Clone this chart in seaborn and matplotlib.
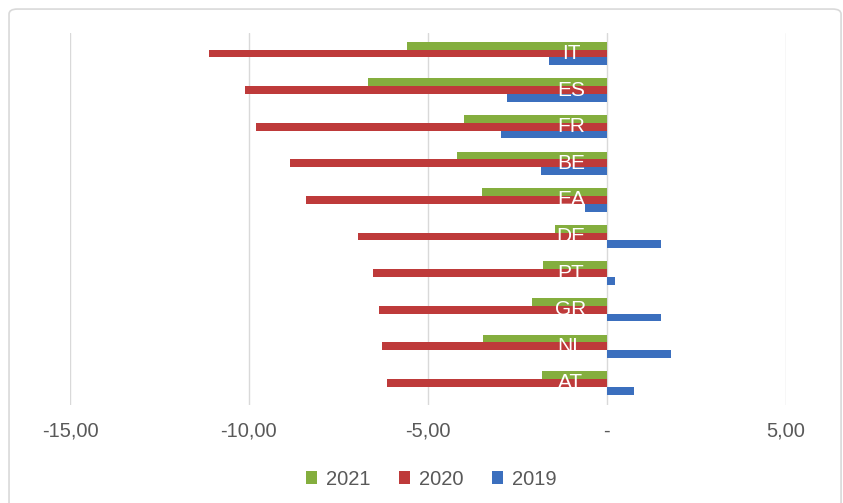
import pandas as pd
import matplotlib.pyplot as plt
import seaborn as sns
from matplotlib.patches import FancyBboxPatch

countries = ['IT', 'ES', 'FR', 'BE', 'EA', 'DE', 'PT', 'GR', 'NL', 'AT']
v2021 = [-5.59, -6.66, -4.00, -4.19, -3.49, -1.46, -1.77, -2.09, -3.46, -1.80]
v2020 = [-11.11, -10.10, -9.80, -8.85, -8.40, -6.96, -6.52, -6.36, -6.27, -6.13]
v2019 = [-1.61, -2.79, -2.96, -1.84, -0.60, 1.51, 0.23, 1.51, 1.80, 0.76]
years = ['2021', '2020', '2019']
xticks = [-15, -10, -5, 0, 5]
xtick_labels = ['-15,00', '-10,00', '-5,00', '-', '5,00']

df = pd.DataFrame({'country': countries * 3,
                   'year': [y for y in years for _ in countries],
                   'value': v2021 + v2020 + v2019})

sns.set_style('white')
plt.rcParams['font.family'] = ['Liberation Sans', 'DejaVu Sans']

fig = plt.figure(figsize=(8.43, 5.03), dpi=100)
ax = fig.add_axes([0.083, 0.195, 0.849, 0.74])

palette = {'2021': '#84AE3E', '2020': '#BE3A3A', '2019': '#3B6FBE'}
sns.barplot(data=df, x='value', y='country', hue='year', hue_order=years,
            order=countries, palette=palette, orient='h', width=0.64,
            saturation=1, linewidth=0, ax=ax, zorder=3)

ax.set_xlim(-15, 5)
ax.set_ylim(9.6, -0.57)
ax.set_xticks(xticks)
ax.set_xticklabels(xtick_labels, fontsize=14.5, color='#595959')
ax.tick_params(axis='x', length=0, pad=12)
ax.set_yticks([])
ax.set_xlabel('')
ax.set_ylabel('')
for s in ax.spines.values():
    s.set_visible(False)
for x in xticks:
    ax.axvline(x, color='#D9D9D9', lw=1, zorder=1)

# labels drawn over the bars
for i, c in enumerate(countries):
    ax.text(-1.0, i, c, color='white', fontsize=15, ha='center', va='center', zorder=5)

leg = ax.legend(loc='upper center', bbox_to_anchor=(0.505, -0.125), ncol=3, frameon=False,
                fontsize=14.5, handlelength=0.55, handleheight=0.55, handletextpad=0.45,
                columnspacing=1.4)
for t in leg.get_texts():
    t.set_color('#595959')

fig.patches.append(FancyBboxPatch((0.0107, -0.02), 0.987, 1.002, boxstyle='round,pad=0,rounding_size=0.01',
                                  transform=fig.transFigure, fill=False, ec='#D9D9D9', lw=1.2))

fig.savefig('out.png', dpi=100)
